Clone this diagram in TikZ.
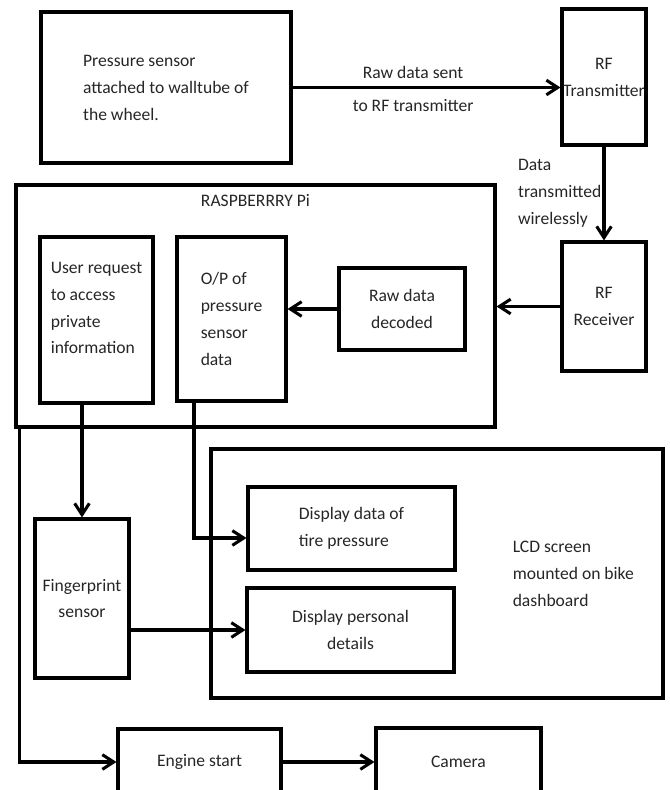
\documentclass[tikz,border=0pt]{standalone}
\usepackage{fontspec}
\setmainfont{Carlito}
\usetikzlibrary{arrows.meta}
\usetikzlibrary{positioning}

\begin{document}
\begin{tikzpicture}[x=0.03cm,y=-0.03cm,>={Straight Barb[length=3.4mm,width=4.4mm]},
    every node/.style={font=\fontsize{15}{23}\selectfont,text=black!85},
    box/.style={draw,line width=2.6pt},
    link/.style={line width=2.6pt,->}]
  \useasboundingbox (0,0) rectangle (669,790);
  \clip (0,0) rectangle (669,790);

  % sensor and RF link
  \node[box,minimum width=7.5cm,minimum height=4.53cm,align=left] (sensor) at (166,87.5) {Pressure sensor\\attached to walltube of\\the wheel.};
  \node[box,minimum width=2.52cm,minimum height=4.08cm,inner xsep=0pt,align=center] (tx) at (604,77) {RF\\Transmitter};
  \node[box,minimum width=2.52cm,minimum height=3.87cm,align=center] (rx) at (604,306.5) {RF\\Receiver};

  % raspberry pi
  \node[box,minimum width=14.37cm,minimum height=7.26cm] (rpi) at (255.5,306) {};
  \node (rpititle) at ([yshift=-0.51cm]rpi.north) {RASPBERRRY Pi};
  \node[box,minimum width=3.39cm,minimum height=4.98cm] (user) at (96.5,320) {};
  \node[align=left] (usertext) at ([yshift=0.36cm]user.center) {User request\\to access\\private\\information};
  \node[box,minimum width=3.27cm,minimum height=4.92cm,align=left] (opout) at (231.5,319) {O/P of\\pressure\\sensor\\data};
  \node[box,minimum width=3.78cm,minimum height=2.46cm,align=center] (decoded) at (402,309) {Raw data\\decoded};

  % lcd screen
  \node[box,minimum width=13.56cm,minimum height=7.47cm] (lcd) at (437,573.5) {};
  \node[anchor=west,inner sep=0pt,align=left] (lcdtext) at ([xshift=-4.56cm]lcd.east) {LCD screen\\mounted on bike\\dashboard};
  \node[box,minimum width=6.21cm,minimum height=2.49cm,align=left] (tire) at (351.5,528.5) {Display data of\\tire pressure};
  \node[box,minimum width=6.21cm,minimum height=2.52cm,align=center] (personal) at (350.5,630) {Display personal\\details};

  \node[box,minimum width=2.82cm,minimum height=4.77cm,align=center] (finger) at (82,598.5) {Fingerprint\\sensor};
  \node[box,minimum width=4.89cm,minimum height=1.98cm] (engine) at (199.5,762) {Engine start};
  \node[box,minimum width=4.95cm,minimum height=2.04cm] (camera) at (458.5,762) {Camera};

  % connectors
  \draw[link] (sensor.east) -- (sensor.east -| tx.west)
    node[pos=0.45,above=1mm] (rawlbl) {Raw data sent}
    node[pos=0.45,below=2mm] (tolbl) {to RF transmitter};
  \draw[link] (tx) -- (rx) node[midway,left,inner sep=1pt,align=left] (wlbl) {Data\\transmitted\\wirelessly};
  \draw[link] (rx.west) -- (rx.west -| rpi.east);
  \draw[link] (decoded.west) -- (decoded.west -| opout.east);
  \draw[link] (user.south -| finger.north) -- (finger.north);
  \draw[link] ([xshift=-1.125cm]opout.south) |- ([yshift=-0.285cm]tire.west);
  \draw[link] (finger.east |- personal.west) -- (personal.west);
  \draw[link] ([xshift=0.15cm]rpi.south west) |- (engine.west);
  \draw[link] (engine) -- (camera);
\end{tikzpicture}
\end{document}
